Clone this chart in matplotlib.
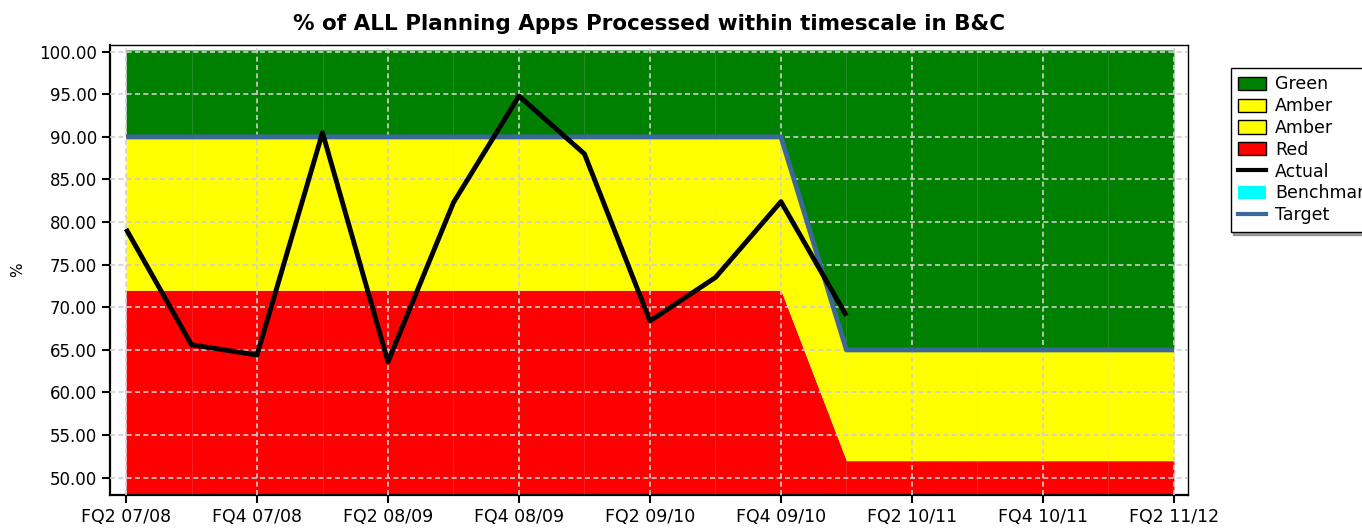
import numpy as np
import matplotlib
matplotlib.use("Agg")
import matplotlib.pyplot as plt
from matplotlib.patches import Patch
from matplotlib.lines import Line2D
from matplotlib.ticker import FormatStrFormatter, MultipleLocator

GREEN = "#008000"
AMBER = "#ffff00"
RED = "#ff0000"
TARGET_COL = "#3b6899"
BENCH_COL = "#00ffff"

quarters = ["FQ2 07/08", "FQ3 07/08", "FQ4 07/08", "FQ1 08/09", "FQ2 08/09", "FQ3 08/09",
            "FQ4 08/09", "FQ1 09/10", "FQ2 09/10", "FQ3 09/10", "FQ4 09/10", "FQ1 10/11",
            "FQ2 10/11", "FQ3 10/11", "FQ4 10/11", "FQ1 11/12", "FQ2 11/12"]
target = [90, 90, 90, 90, 90, 90, 90, 90, 90, 90, 90, 65, 65, 65, 65, 65, 65]
red_upper = [72, 72, 72, 72, 72, 72, 72, 72, 72, 72, 72, 52, 52, 52, 52, 52, 52]
actual = [79.2, 65.6, 64.4, 90.5, 63.6, 82.3, 94.8, 88.0, 68.4, 73.5, 82.4, 69.0]
green_upper = 100.2
axis_floor = 48

x = np.arange(len(quarters))
xa = np.arange(len(actual))

fig = plt.figure(figsize=(13.62, 5.28), dpi=100)
ax = fig.add_axes([0.081, 0.063, 0.791, 0.852])

# RAG bands
ax.fill_between(x, axis_floor, red_upper, color=RED, lw=0, zorder=1)
ax.fill_between(x, red_upper, target, color=AMBER, lw=0, zorder=1)
ax.fill_between(x, target, green_upper, color=GREEN, lw=0, zorder=1)

ax.plot(x, target, color=TARGET_COL, lw=3.5, zorder=3, solid_capstyle="butt")
ax.plot(xa, actual, color="black", lw=3.5, zorder=4, solid_capstyle="butt")

ax.set_xlim(-0.24, 16.21)
ax.set_ylim(axis_floor, 100.8)
ax.set_xticks(x[::2])
ax.set_xticklabels(quarters[::2], fontsize=12.5)
ax.set_xticks(x[1::2], minor=True)
ax.yaxis.set_major_locator(MultipleLocator(5))
ax.yaxis.set_major_formatter(FormatStrFormatter("%.2f"))
ax.tick_params(axis="y", labelsize=12, length=6, width=1.5, direction="out")
ax.tick_params(axis="x", which="major", length=6, width=1.5, direction="out")
ax.tick_params(axis="x", which="minor", length=0)

ax.grid(which="major", color="#d0d0d0", linestyle=(0, (3, 2)), lw=1.2, zorder=2)
ax.grid(which="minor", axis="x", color="#c8c8c8", linestyle="-", lw=0.6, alpha=0.2, zorder=2)
ax.set_axisbelow(False)

for s in ["left", "bottom"]:
    ax.spines[s].set_linewidth(1.6)
for s in ["top", "right"]:
    ax.spines[s].set_linewidth(1.0)

ax.set_ylabel("%", fontsize=11, labelpad=10)
ax.set_title("% of ALL Planning Apps Processed within timescale in B&C",
             fontsize=15.5, fontweight="bold", pad=11)

handles = [
    Patch(facecolor=GREEN, edgecolor="black", label="Green"),
    Patch(facecolor=AMBER, edgecolor="black", label="Amber"),
    Patch(facecolor=AMBER, edgecolor="black", label="Amber"),
    Patch(facecolor=RED, edgecolor="black", label="Red"),
    Line2D([], [], color="black", lw=3, label="Actual"),
    Patch(facecolor=BENCH_COL, edgecolor="none", label="Benchmark"),
    Line2D([], [], color=TARGET_COL, lw=3, label="Target"),
]
leg = fig.legend(handles=handles, loc="upper left", bbox_to_anchor=(0.9035, 0.872),
                 fontsize=12.5, frameon=True, fancybox=False, shadow=True,
                 handlelength=1.6, handleheight=0.8, handletextpad=0.5,
                 labelspacing=0.22, borderpad=0.45, borderaxespad=0)
leg.get_frame().set_edgecolor("black")
leg.get_frame().set_linewidth(1.0)

fig.savefig("out.png", dpi=100)
